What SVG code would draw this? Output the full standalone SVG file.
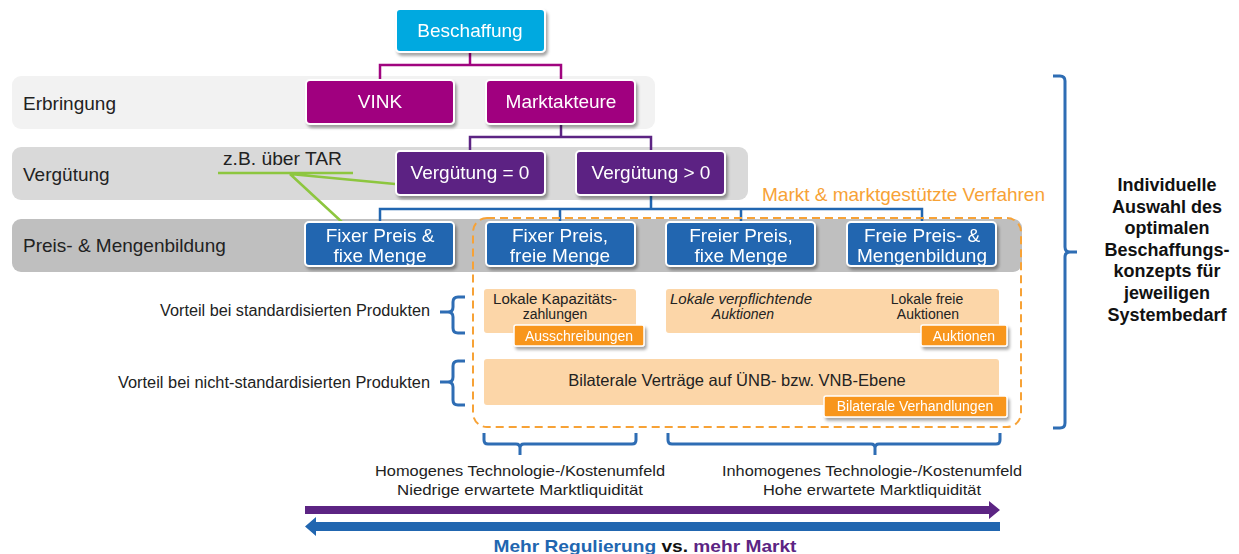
<svg xmlns="http://www.w3.org/2000/svg" width="1239" height="554" viewBox="0 0 1239 554">
<defs>
<filter id="sh" x="-10%" y="-20%" width="125%" height="150%"><feDropShadow dx="2" dy="3" stdDeviation="1.6" flood-color="#000" flood-opacity="0.35"/></filter>
<style>
text{font-family:"Liberation Sans",Arial,sans-serif}
.lbl{font-size:19px;fill:#222}
.bt{font-size:19px;fill:#fff;text-anchor:middle}
.box{stroke:#fff;stroke-width:2}
.cb{fill:#00A9E0}
.cm{fill:#A0047F}
.cp{fill:#5C2483}
.cbl{fill:#2166B0}
.lo{fill:#FCD6A8}
.tag{fill:#F8961E;stroke:#fff;stroke-width:1.5}
.tt{font-size:14px;fill:#fff;text-anchor:middle}
.ot{font-size:14px;fill:#222;text-anchor:middle}
.brace{fill:none;stroke:#2E6DB4;stroke-width:3;stroke-linejoin:round}
.side{font-size:16px;fill:#222;text-anchor:end}
.bold{font-size:18px;font-weight:bold;fill:#111;text-anchor:middle}
.bot{font-size:15px;fill:#222;text-anchor:middle}
</style>
</defs>
<rect width="1239" height="554" fill="#fff"/>

<g id="bands">
<rect x="12" y="76" width="643" height="53" rx="9" fill="#F2F2F2"/>
<rect x="12" y="147" width="736" height="53" rx="9" fill="#D9D9D9"/>
<rect x="12" y="219" width="1010" height="53" rx="9" fill="#BFBFBF"/>
<text class="lbl" x="23" y="110">Erbringung</text>
<text class="lbl" x="23" y="181">Vergütung</text>
<text class="lbl" x="23" y="252">Preis- &amp; Mengenbildung</text>
</g>

<g id="connectors" fill="none">
<path d="M470 52V65M380 80V65H561V80" stroke="#A0047F" stroke-width="2.5"/>
<path d="M561 124V137M470 151V137H651V151" stroke="#5C2483" stroke-width="2.5"/>
<path d="M651 195V209M380 222V209H922V222M560 209V222M741 209V222" stroke="#2166B0" stroke-width="2.5"/>
<path d="M218 173H353M290 174L395 184M290 174L343 223" stroke="#8DC63F" stroke-width="2.5"/>
</g>

<g id="tar-note">
<text x="223" y="165" font-size="19" fill="#222" textLength="119" lengthAdjust="spacingAndGlyphs">z.B. über TAR</text>
</g>

<g id="markt-region">
<rect x="473" y="218" width="548" height="209" rx="14" fill="none" stroke="#F7A236" stroke-width="2" stroke-dasharray="8 5"/>
<text x="762" y="201" font-size="19" fill="#F7A236" textLength="283" lengthAdjust="spacingAndGlyphs">Markt &amp; marktgestützte Verfahren</text>
</g>

<g id="beschaffung" filter="url(#sh)"><rect class="box cb" x="396" y="9" width="149" height="43" rx="4"/><text class="bt" x="470" y="37">Beschaffung</text></g>
<g id="vink" filter="url(#sh)"><rect class="box cm" x="306" y="80" width="148" height="44" rx="4"/><text class="bt" x="380" y="108">VINK</text></g>
<g id="marktakteure" filter="url(#sh)"><rect class="box cm" x="486" y="80" width="149" height="44" rx="4"/><text class="bt" x="561" y="108">Marktakteure</text></g>
<g id="verg0" filter="url(#sh)"><rect class="box cp" x="396" y="151" width="149" height="44" rx="4"/><text class="bt" x="470" y="179">Vergütung = 0</text></g>
<g id="verggt0" filter="url(#sh)"><rect class="box cp" x="576" y="151" width="149" height="44" rx="4"/><text class="bt" x="651" y="179">Vergütung &gt; 0</text></g>

<g id="fix-fix" filter="url(#sh)"><rect class="box cbl" x="305" y="222" width="149" height="44" rx="4"/><text class="bt" x="380" y="242">Fixer Preis &amp;</text><text class="bt" x="380" y="262">fixe Menge</text></g>
<g id="fix-frei" filter="url(#sh)"><rect class="box cbl" x="486" y="222" width="149" height="44" rx="4"/><text class="bt" x="560" y="242">Fixer Preis,</text><text class="bt" x="560" y="262">freie Menge</text></g>
<g id="frei-fix" filter="url(#sh)"><rect class="box cbl" x="666" y="222" width="149" height="44" rx="4"/><text class="bt" x="741" y="242">Freier Preis,</text><text class="bt" x="741" y="262">fixe Menge</text></g>
<g id="frei-frei" filter="url(#sh)"><rect class="box cbl" x="847" y="222" width="149" height="44" rx="4"/><text class="bt" x="922" y="242">Freie Preis- &amp;</text><text class="bt" x="922" y="262">Mengenbildung</text></g>

<g id="kapazitaet">
<rect class="lo" x="484" y="289" width="152" height="44" rx="3"/>
<text class="ot" x="555" y="304" textLength="124" lengthAdjust="spacingAndGlyphs">Lokale Kapazitäts-</text>
<text class="ot" x="555" y="319">zahlungen</text>
<g filter="url(#sh)"><rect class="tag" x="514" y="325" width="130" height="21" rx="2"/><text class="tt" x="579" y="341">Ausschreibungen</text></g>
</g>

<g id="auktionen">
<rect class="lo" x="666" y="289" width="333" height="44" rx="3"/>
<text class="ot" x="741" y="304" font-style="italic" textLength="142" lengthAdjust="spacingAndGlyphs">Lokale verpflichtende</text>
<text class="ot" x="743" y="319" font-style="italic">Auktionen</text>
<text class="ot" x="927" y="304">Lokale freie</text>
<text class="ot" x="928" y="319">Auktionen</text>
<g filter="url(#sh)"><rect class="tag" x="921" y="325" width="86" height="21" rx="2"/><text class="tt" x="964" y="341">Auktionen</text></g>
</g>

<g id="bilateral">
<rect class="lo" x="484" y="359" width="515" height="46" rx="3"/>
<text x="737" y="386" font-size="16.5" fill="#222" text-anchor="middle">Bilaterale Verträge auf ÜNB- bzw. VNB-Ebene</text>
<g filter="url(#sh)"><rect class="tag" x="824" y="396" width="183" height="21" rx="2"/><text class="tt" x="915" y="411">Bilaterale Verhandlungen</text></g>
</g>

<g id="side-labels">
<path class="brace" d="M465 297H458Q453 297 453 302V307Q453 312 448 312H440M448 312Q453 312 453 317V328Q453 333 458 333H465"/>
<text class="side" x="430" y="316" textLength="270" lengthAdjust="spacingAndGlyphs">Vorteil bei standardisierten Produkten</text>
<path class="brace" d="M465 361H458Q453 361 453 366V377Q453 382 448 382H440M448 382Q453 382 453 387V400Q453 405 458 405H465"/>
<text class="side" x="430" y="388" textLength="312" lengthAdjust="spacingAndGlyphs">Vorteil bei nicht-standardisierten Produkten</text>
</g>

<g id="right-brace">
<path class="brace" d="M1053 76H1060Q1065 76 1065 81V247Q1065 252 1070 252H1077M1070 252Q1065 252 1065 257V423Q1065 428 1060 428H1053"/>
<text class="bold" x="1167" y="191">Individuelle</text>
<text class="bold" x="1167" y="213">Auswahl des</text>
<text class="bold" x="1167" y="234">optimalen</text>
<text class="bold" x="1167" y="256">Beschaffungs-</text>
<text class="bold" x="1167" y="277">konzepts für</text>
<text class="bold" x="1167" y="299">jeweiligen</text>
<text class="bold" x="1167" y="321">Systembedarf</text>
</g>

<g id="bottom-braces">
<path class="brace" d="M484 433V440Q484 444 488 444H516Q520 444 520 448V455M520 448Q520 444 524 444H632Q636 444 636 440V433"/>
<path class="brace" d="M668 433V440Q668 444 672 444H871Q875 444 875 448V455M875 448Q875 444 879 444H996Q1000 444 1000 440V433"/>
<text class="bot" x="520" y="476" textLength="290" lengthAdjust="spacingAndGlyphs">Homogenes Technologie-/Kostenumfeld</text>
<text class="bot" x="520" y="495" textLength="246" lengthAdjust="spacingAndGlyphs">Niedrige erwartete Marktliquidität</text>
<text class="bot" x="872" y="476" textLength="300" lengthAdjust="spacingAndGlyphs">Inhomogenes Technologie-/Kostenumfeld</text>
<text class="bot" x="872" y="495" textLength="218" lengthAdjust="spacingAndGlyphs">Hohe erwartete Marktliquidität</text>
</g>

<g id="arrows">
<path d="M305 506H989V501L1000 510L989 519V514H305Z" fill="#5C2483"/>
<path d="M1000 522H316V517L305 526.5L316 536V531H1000Z" fill="#2166B0"/>
<text x="645" y="552" font-size="17" font-weight="bold" text-anchor="middle" textLength="303" lengthAdjust="spacingAndGlyphs"><tspan fill="#2166B0">Mehr Regulierung</tspan><tspan fill="#111"> vs. </tspan><tspan fill="#5C2483">mehr Markt</tspan></text>
</g>
</svg>
